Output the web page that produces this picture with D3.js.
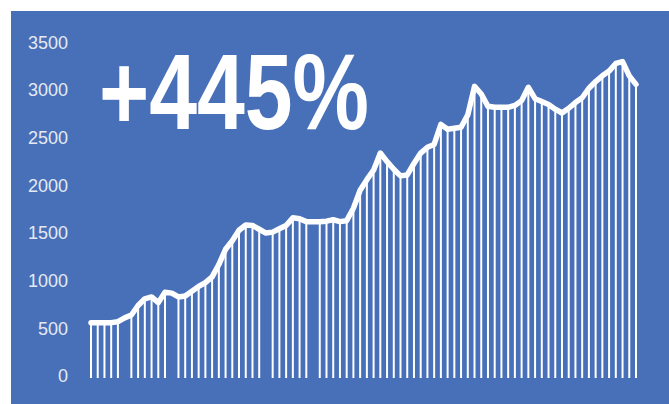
<!DOCTYPE html>
<html>
<head>
	<meta charset="utf-8" />
	<script src="https://d3js.org/d3.v7.min.js"></script>
	<style>
		body { margin: 0; background: #fff; }
		.y-axis text { fill: #e6e9f2; font-family: "Liberation Sans", Arial, sans-serif; font-size: 18px; }
	</style>
</head>
<body>
	<div id="chart"></div>
	<script>
		// valeurs (une par semaine)
		var values = [560, 560, 560, 560, 570, 610, 640, 740, 810, 830,
			770, 880, 870, 830, 840, 890, 940, 980, 1040, 1170,
			1330, 1420, 1530, 1585, 1580, 1540, 1500, 1510, 1545, 1580,
			1660, 1650, 1620, 1620, 1620, 1625, 1640, 1620, 1630, 1760,
			1950, 2060, 2160, 2340, 2250, 2170, 2100, 2110, 2230, 2340,
			2400, 2430, 2640, 2590, 2600, 2610, 2740, 3040, 2960, 2830,
			2820, 2820, 2820, 2840, 2890, 3030, 2910, 2880, 2850, 2800,
			2760, 2810, 2870, 2920, 3020, 3090, 3150, 3200, 3280, 3300,
			3150, 3060];
		// points sans ligne de projection
		var noDrop = [5, 12, 26, 33];
		var yTicks = [0, 500, 1000, 1500, 2000, 2500, 3000, 3500];
		var bigLabel = "+445%";

		var width = 669, height = 404;

		var svg = d3.select("#chart").append("svg")
			.attr("width", width)
			.attr("height", height);

		// fond bleu
		svg.append("rect")
			.attr("x", 11)
			.attr("y", 11)
			.attr("width", width - 11)
			.attr("height", height - 11)
			.attr("fill", "#4870b8");

		var x = d3.scalePoint()
			.domain(d3.range(values.length))
			.range([91, 636]);

		var y = d3.scaleLinear()
			.domain([0, 3500])
			.range([376, 42.5]);

		// axe y sans traits
		var yAxis = svg.append("g")
			.attr("class", "y-axis")
			.attr("transform", "translate(72,0)")
			.call(d3.axisLeft(y).tickValues(yTicks).tickFormat(d3.format("d")).tickSize(0).tickPadding(4));
		yAxis.select(".domain").remove();

		// lignes de projection
		svg.selectAll(".drop")
			.data(values.map(function (v, i) { return { i: i, v: v }; })
				.filter(function (d) { return noDrop.indexOf(d.i) < 0; }))
			.enter().append("line")
			.attr("class", "drop")
			.attr("x1", function (d) { return x(d.i); })
			.attr("x2", function (d) { return x(d.i); })
			.attr("y1", function (d) { return y(d.v); })
			.attr("y2", y(0) + 2)
			.attr("stroke", "#ffffff")
			.attr("stroke-width", 2);

		// la courbe
		var line = d3.line()
			.x(function (d, i) { return x(i); })
			.y(function (d) { return y(d); });

		svg.append("path")
			.datum(values)
			.attr("d", line)
			.attr("fill", "none")
			.attr("stroke", "#ffffff")
			.attr("stroke-width", 5.5)
			.attr("stroke-linejoin", "round")
			.attr("stroke-linecap", "round");

		// grand texte
		svg.append("text")
			.attr("x", 99)
			.attr("y", 129)
			.attr("textLength", 270)
			.attr("lengthAdjust", "spacingAndGlyphs")
			.style("font-family", "'Liberation Sans', Arial, sans-serif")
			.style("font-weight", "bold")
			.style("font-size", "108px")
			.style("fill", "#ffffff")
			.text(bigLabel);
	</script>
</body>
</html>
